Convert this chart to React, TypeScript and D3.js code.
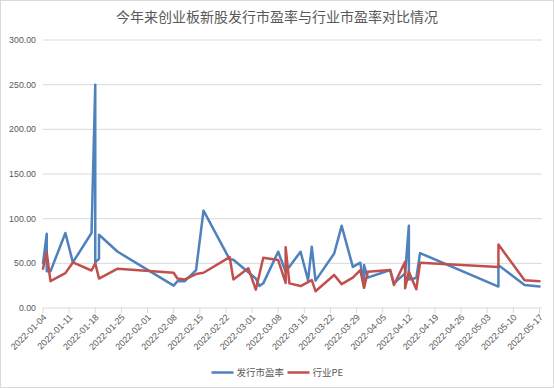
import React from 'react';
import * as d3 from 'd3';

// one row per listing day, a date may repeat when several IPOs priced on it
const dates = [
  '2022-01-04', '2022-01-05', '2022-01-05', '2022-01-06', '2022-01-10', '2022-01-12',
  '2022-01-17', '2022-01-18', '2022-01-18', '2022-01-19', '2022-01-19', '2022-01-24',
  '2022-02-08', '2022-02-09', '2022-02-11', '2022-02-14', '2022-02-16', '2022-02-23',
  '2022-02-24', '2022-02-28', '2022-03-02', '2022-03-03', '2022-03-04', '2022-03-08',
  '2022-03-10', '2022-03-10', '2022-03-11', '2022-03-14', '2022-03-16', '2022-03-17',
  '2022-03-18', '2022-03-23', '2022-03-25', '2022-03-28', '2022-03-30', '2022-03-31',
  '2022-03-31', '2022-04-01', '2022-04-07', '2022-04-08', '2022-04-11', '2022-04-11',
  '2022-04-12', '2022-04-12', '2022-04-14', '2022-04-15', '2022-05-06', '2022-05-06',
  '2022-05-13', '2022-05-17',
];

const issuePE: (number | null)[] = [
  50, 83, 41, 41, 84, 51,
  84, 250, 51, 55, 82, 63,
  25, 30, 30, 42.5, 109, 54.5,
  54, null, 33, 24.6, 27.6, 63,
  40.6, null, null, 63, 31, 68.6,
  30.6, 61, 92, 46, 50.7, 24,
  48, 34, 42.5, 27.6, 38.8, null,
  92, 32, 33.5, 61.5, 24, 48,
  25.7, 24,
];

const industryPE: (number | null)[] = [
  44, 62, null, 30, 39, 51,
  42, 50, null, 33, null, 44,
  39.5, 33, 32, 38, 39.5, 57,
  32, 44.5, 20.5, null, 56.3, 53.7,
  28, 68, 27.6, 24.6, null, 31.3,
  18.8, 37, 26.7, 34, 42.5, 22.5,
  null, 40.6, 42.5, 25.7, 51.8, 22,
  40.6, null, 21, 50.7, 46, 71,
  31, 30,
];

const yTicks = [0, 50, 100, 150, 200, 250, 300];
const seriesNames = ['发行市盈率', '行业PE'];
const seriesColors = ['#4F81BD', '#C0504D'];
const title = '今年来创业板新股发行市盈率与行业市盈率对比情况';

const W = 554;
const H = 388;
const parse = d3.timeParse('%Y-%m-%d');

export default function App() {
  const x0 = parse('2022-01-04') as Date;
  const x1 = parse('2022-05-17') as Date;
  const x = d3.scaleTime().domain([x0, x1]).range([43, 539.5]);
  const y = d3.scaleLinear().domain([0, 300]).range([308, 40]);
  const plotRight = 542;

  const xTicks = d3.timeDay.range(x0, d3.timeDay.offset(x1, 1), 7);
  const fmtDate = d3.timeFormat('%Y-%m-%d');
  const fmtY = d3.format('.2f');

  const toPoints = (vals: (number | null)[]) =>
    dates
      .map((d, i) => ({ date: parse(d) as Date, v: vals[i] }))
      .filter(p => p.v != null) as { date: Date; v: number }[];

  const line = d3.line<{ date: Date; v: number }>()
    .x(p => x(p.date))
    .y(p => y(p.v));

  const series = [toPoints(issuePE), toPoints(industryPE)];
  const axisFont = 'Liberation Sans, Arial, sans-serif';
  const cjkFont = '"Noto Sans CJK SC", sans-serif';

  // legend layout
  const legendY = 372.5;
  const legendItems = [
    { lx: 211.5, tx: 236.5 },
    { lx: 287.5, tx: 312.5 },
  ];

  return (
    <svg width={W} height={H} style={{ position: 'absolute', left: 0, top: 0, background: '#fff' }}>
      <rect x={0.5} y={0.5} width={W - 1} height={H - 1} fill="#fff" stroke="#d9d9d9" />
      <text x={W / 2} y={22} textAnchor="middle" fontSize={14} fill="#595959" fontFamily={cjkFont}>
        {title}
      </text>

      {yTicks.map(t => (
        <g key={t}>
          {t > 0 && (
            <line x1={43} x2={plotRight} y1={y(t)} y2={y(t)} stroke="#d9d9d9" strokeWidth={1} />
          )}
          <text x={36} y={y(t) + 3} textAnchor="end" fontSize={8.8} fill="#595959" fontFamily={axisFont}>
            {fmtY(t)}
          </text>
        </g>
      ))}

      <line x1={43} x2={plotRight} y1={y(0)} y2={y(0)} stroke="#d9d9d9" />
      {xTicks.map(t => (
        <g key={+t}>
          <line x1={x(t)} x2={x(t)} y1={y(0)} y2={y(0) + 5} stroke="#d9d9d9" />
          <text
            transform={`translate(${x(t) + 4},${y(0) + 10}) rotate(-45)`}
            textAnchor="end"
            fontSize={9}
            fill="#595959"
            fontFamily={axisFont}
          >
            {fmtDate(t)}
          </text>
        </g>
      ))}

      {series.map((pts, i) => (
        <path
          key={i}
          d={line(pts) || ''}
          fill="none"
          stroke={seriesColors[i]}
          strokeWidth={2.5}
          strokeLinejoin="round"
          strokeLinecap="round"
        />
      ))}

      {legendItems.map((it, i) => (
        <g key={i}>
          <line x1={it.lx} x2={it.lx + 22} y1={legendY} y2={legendY} stroke={seriesColors[i]} strokeWidth={2.5} />
          <text x={it.tx} y={legendY + 3.5} fontSize={9.5} fill="#595959" fontFamily={cjkFont}>
            {seriesNames[i]}
          </text>
        </g>
      ))}
    </svg>
  );
}
